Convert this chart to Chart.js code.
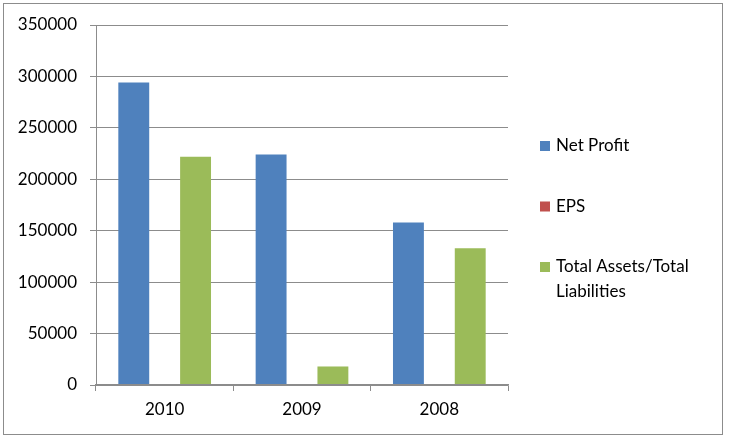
<!DOCTYPE html>
<html><head><meta charset="utf-8">
<script src="https://cdn.jsdelivr.net/npm/chart.js@4/dist/chart.umd.min.js"></script>
<style>html,body{margin:0;padding:0;background:#fff}#wrap{width:729px;height:438px;position:relative}</style>
</head><body><div id="wrap"><canvas id="c" width="729" height="438"></canvas></div>
<script>
const categories = ["2010", "2009", "2008"];
const netProfit = [294000, 224000, 158000];
const eps = [10, 8, 6];
const totalAssetsLiab = [222000, 18000, 133000];
const seriesNames = ["Net Profit", "EPS", "Total Assets/Total Liabilities"];
const yTicks = [0, 50000, 100000, 150000, 200000, 250000, 300000, 350000];
const colors = ["#4F81BD", "#C0504D", "#9BBB59"];
const FONT = "Lato, 'Liberation Sans', sans-serif";

const frame = {
  id: 'frame',
  beforeDraw(chart) {
    const ctx = chart.ctx;
    ctx.save();
    ctx.fillStyle = '#fff';
    ctx.fillRect(0, 0, chart.width, chart.height);
    ctx.strokeStyle = '#8c8c8c';
    ctx.lineWidth = 1;
    ctx.strokeRect(3.5, 3.5, 719, 431);
    ctx.restore();
  }
};

const sideLegend = {
  id: 'sideLegend',
  afterDraw(chart) {
    const ctx = chart.ctx;
    ctx.save();
    ctx.font = '17px ' + FONT;
    ctx.textBaseline = 'middle';
    ctx.fillStyle = '#000';
    const x0 = 540, tx = 556, maxW = 160, lineH = 25;
    let y = 146;
    chart.data.datasets.forEach((ds, i) => {
      const words = ds.label.split(' ');
      const lines = [];
      let cur = '';
      words.forEach(w => {
        const t = cur ? cur + ' ' + w : w;
        if (ctx.measureText(t).width > maxW && cur) { lines.push(cur); cur = w; } else cur = t;
      });
      if (cur) lines.push(cur);
      ctx.fillStyle = ds.backgroundColor;
      ctx.fillRect(x0, y - 5, 10, 10);
      ctx.fillStyle = '#000';
      lines.forEach((l, k) => ctx.fillText(l, tx, y + k * lineH));
      y += 60.5;
    });
    ctx.restore();
  }
};

new Chart(document.getElementById('c'), {
  type: 'bar',
  data: {
    labels: categories,
    datasets: [
      { label: seriesNames[0], data: netProfit, backgroundColor: colors[0] },
      { label: seriesNames[1], data: eps, backgroundColor: colors[1], inflateAmount: 0 },
      { label: seriesNames[2], data: totalAssetsLiab, backgroundColor: colors[2] }
    ]
  },
  options: {
    responsive: false,
    animation: false,
    layout: { padding: { top: 25, right: 221, bottom: 0, left: 0 } },
    datasets: { bar: { barPercentage: 1, categoryPercentage: 0.675 } },
    plugins: { legend: { display: false }, tooltip: { enabled: false } },
    scales: {
      x: {
        offset: true,
        grid: { offset: true, drawOnChartArea: false, color: '#8c8c8c', tickLength: 6 },
        border: { color: '#8c8c8c', width: 1.5, z: 1 },
        ticks: { color: '#000', font: { family: FONT, size: 17 }, padding: 8 },
        afterFit(s) { s.height = 53; }
      },
      y: {
        min: 0, max: 350000,
        afterBuildTicks(s) { s.ticks = yTicks.map(v => ({ value: v })); },
        grid: { color: '#8c8c8c', tickLength: 6 },
        border: { color: '#8c8c8c' },
        ticks: { color: '#000', font: { family: FONT, size: 17 }, padding: 13, callback: v => String(v) },
        afterFit(s) { s.width = 96; }
      }
    }
  },
  plugins: [frame, sideLegend]
});
</script></body></html>
